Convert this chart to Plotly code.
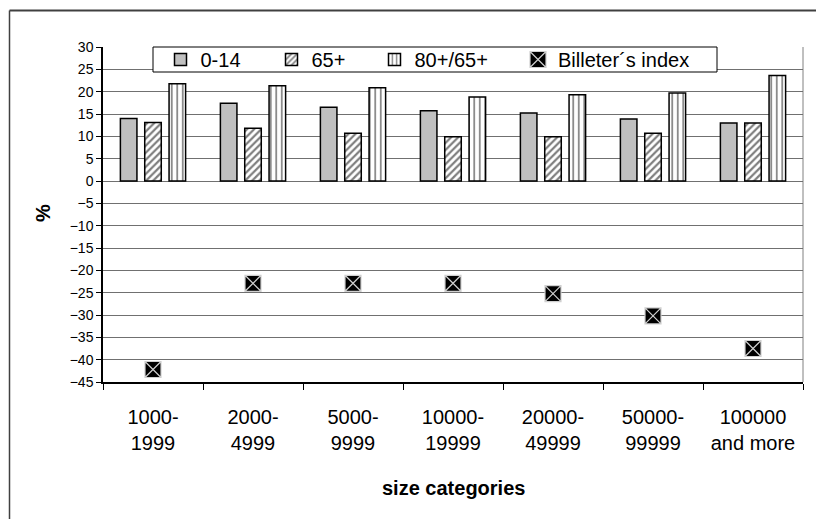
import plotly.graph_objects as go

categories = ["1000-<br>1999", "2000-<br>4999", "5000-<br>9999", "10000-<br>19999",
              "20000-<br>49999", "50000-<br>99999", "100000<br>and more"]
share_0_14 = [14.0, 17.4, 16.5, 15.7, 15.2, 13.9, 13.0]
share_65 = [13.1, 11.8, 10.7, 9.9, 9.9, 10.7, 13.0]
share_80_65 = [21.8, 21.3, 20.9, 18.8, 19.3, 19.7, 23.6]
billeter = [-42.2, -22.9, -22.9, -22.9, -25.2, -30.2, -37.5]
y_ticks = list(range(-45, 31, 5))

FONT = "Liberation Sans, Arial, sans-serif"

# plot area in pixels
L, R, T, B = 103, 803, 47, 382
W, H = R - L, B - T
def px(x):
    return (x - L) / W
def py(y):
    return (B - y) / H

fig = go.Figure()
fig.add_trace(go.Bar(
    x=categories, y=share_0_14, name="0-14", legend="legend", showlegend=True,
    marker=dict(color="#c0c0c0", line=dict(color="black", width=1.5)),
))
fig.add_trace(go.Bar(
    x=categories, y=share_65, name="65+", legend="legend2", showlegend=True,
    marker=dict(color="white", line=dict(color="black", width=1.5),
                pattern=dict(shape="/", fgcolor="black", bgcolor="white",
                             size=5, solidity=0.45)),
))
fig.add_trace(go.Bar(
    x=categories, y=share_80_65, name="80+/65+", legend="legend3", showlegend=True,
    marker=dict(color="white", line=dict(color="black", width=1.5),
                pattern=dict(shape="|", fgcolor="black", bgcolor="white",
                             size=5.5, solidity=0.3)),
))
fig.add_trace(go.Scatter(
    x=categories, y=billeter, name="Billeter´s index", legend="legend4",
    showlegend=True, mode="markers",
    marker=dict(symbol="square-x", size=16, color="black",
                line=dict(color="#d0d0d0", width=1.2)),
))

legend_common = dict(orientation="h", yanchor="middle", y=py(59.5),
                     xanchor="left", bgcolor="rgba(0,0,0,0)", borderwidth=0,
                     visible=True,
                     font=dict(family=FONT, size=20, color="black"))
fig.update_layout(
    showlegend=True,
    legend=dict(x=px(160.5), **legend_common),
    legend2=dict(x=px(271.5), **legend_common),
    legend3=dict(x=px(374.5), **legend_common),
    legend4=dict(x=px(518), **legend_common),
)

fig.update_layout(
    width=816, height=519,
    margin=dict(l=L, r=816 - R, t=T, b=519 - B),
    paper_bgcolor="white", plot_bgcolor="white",
    barmode="group", bargap=0.27, bargroupgap=0.32,
    font=dict(family=FONT, color="black"),
    xaxis=dict(
        type="category", tickson="boundaries", ticks="outside", ticklen=6,
        tickcolor="black", showline=True, linecolor="black", linewidth=1.5,
        showgrid=False, tickfont=dict(size=20, family=FONT), ticklabelstandoff=16,
    ),
    yaxis=dict(
        range=[-45, 30], tickvals=y_ticks, ticks="outside", ticklen=5,
        tickcolor="black", showline=True, linecolor="black", linewidth=1.5,
        showgrid=True, gridcolor="#707070", gridwidth=1, zeroline=False,
        tickfont=dict(size=14, family=FONT),
    ),
    shapes=[
        # plot area frame (right edge)
        dict(type="line", xref="paper", yref="paper", x0=1, x1=1, y0=0, y1=1,
             line=dict(color="#808080", width=1), layer="below"),
        # legend box
        dict(type="rect", xref="paper", yref="paper", x0=px(153), x1=px(717),
             y0=py(72), y1=py(47), fillcolor="white",
             line=dict(color="black", width=1), layer="above"),
        # outer chart border (top and left edges; the rest lies outside the view)
        dict(type="line", xref="paper", yref="paper", x0=px(9.5), x1=px(816),
             y0=py(10.5), y1=py(10.5), line=dict(color="#404040", width=2)),
        dict(type="line", xref="paper", yref="paper", x0=px(9.5), x1=px(9.5),
             y0=py(10.5), y1=py(519), line=dict(color="#404040", width=1.5)),
    ],
    annotations=[
        dict(text="<b>%</b>", xref="paper", yref="paper", x=px(43), y=py(213),
             showarrow=False, textangle=-90, font=dict(size=20, family=FONT),
             xanchor="center", yanchor="middle"),
        dict(text="<b>size categories</b>", xref="paper", yref="paper",
             x=0.5, y=py(488), showarrow=False, font=dict(size=20, family=FONT),
             xanchor="center", yanchor="middle"),
    ],
)

fig.write_html("out.html")
